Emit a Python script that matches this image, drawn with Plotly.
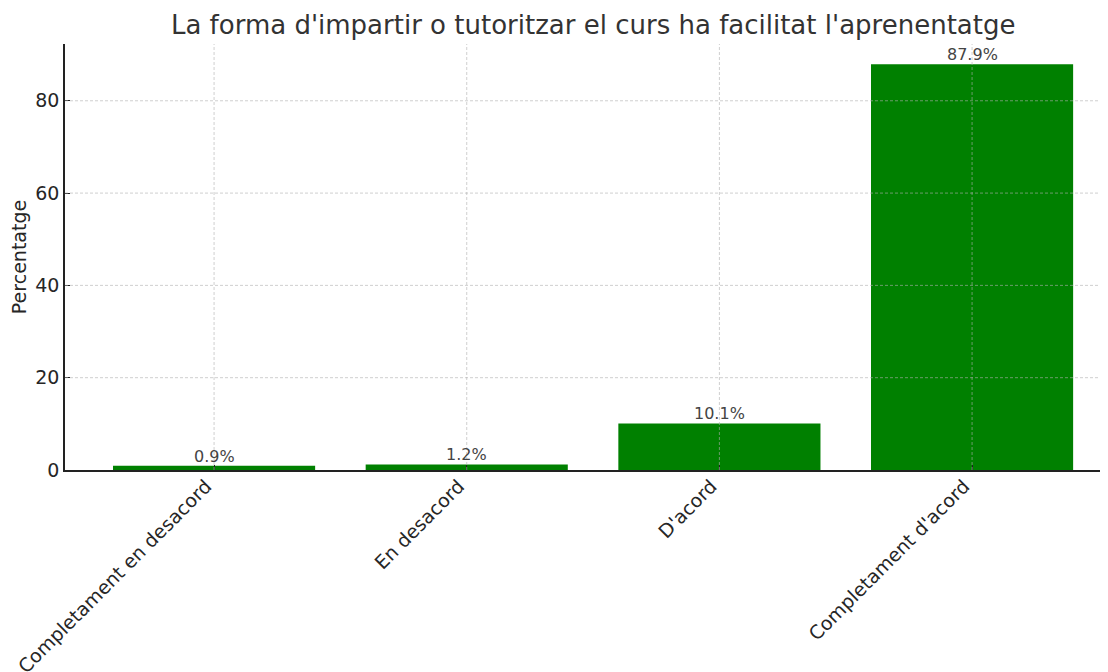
import plotly.graph_objects as go

# survey answers and share of responses (%)
categories = ["Completament en desacord", "En desacord", "D'acord", "Completament d'acord"]
percentages = [0.9, 1.2, 10.1, 87.9]
bar_labels = [f"{p:.1f}%" for p in percentages]
y_ticks = [0, 20, 40, 60, 80]

font_family = "DejaVu Sans, Verdana, sans-serif"
grid_color = "rgba(175,175,175,0.6)"

fig = go.Figure()
fig.add_trace(
    go.Bar(
        x=list(range(len(categories))),
        y=percentages,
        width=0.8,
        marker=dict(color="#008000", line=dict(width=0)),
        showlegend=False,
    )
)

# value labels just above each bar
for i, (p, label) in enumerate(zip(percentages, bar_labels)):
    fig.add_annotation(
        x=i, y=p, text=label, showarrow=False,
        xanchor="center", yanchor="bottom", yshift=-2,
        font=dict(size=16, color="#444444"),
    )

# dashed grid drawn over the bars, like the original
for v in y_ticks[1:]:
    fig.add_hline(y=v, line=dict(color=grid_color, width=1, dash="3px,2px"), layer="above")
for i in range(len(categories)):
    fig.add_vline(x=i, line=dict(color=grid_color, width=1, dash="3px,2px"), layer="above")

# page body adds an 8px offset, so the figure is a bit smaller than the window
fig.update_layout(
    width=1100,
    height=664,
    margin=dict(l=57, r=0, t=36, b=202, autoexpand=False),
    plot_bgcolor="white",
    paper_bgcolor="white",
    font=dict(family=font_family, color="#262626"),
    title=dict(
        text="La forma d'impartir o tutoritzar el curs ha facilitat l'aprenentatge",
        x=0.532, xanchor="center", y=0.974, yanchor="middle",
        font=dict(size=26, color="#333333"),
    ),
)
fig.update_xaxes(
    range=[-0.59, 3.538],
    tickvals=list(range(len(categories))),
    ticktext=categories,
    tickangle=-45,
    tickfont=dict(size=19),
    ticklabelshift=-8, ticklabelstandoff=-4,
    ticks="inside", ticklen=5, tickcolor="#222222",
    showline=True, linecolor="#222222", linewidth=1.5,
    showgrid=False, zeroline=False, automargin=False,
)
fig.update_yaxes(
    range=[0, 92.3],
    tickvals=y_ticks,
    tickfont=dict(size=19),
    ticks="inside", ticklen=5, tickcolor="#222222",
    showline=True, linecolor="#222222", linewidth=1.5,
    showgrid=False, zeroline=False, automargin=False,
    title=dict(text="Percentatge", font=dict(size=19), standoff=10),
)

fig.write_html("out.html")
